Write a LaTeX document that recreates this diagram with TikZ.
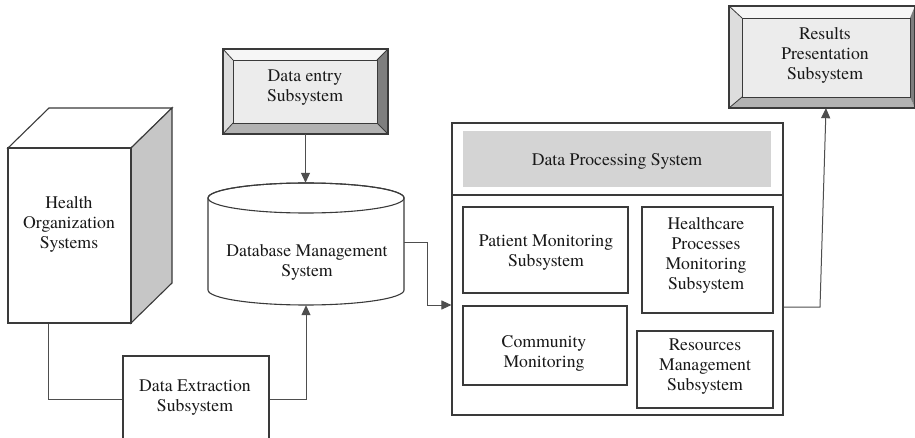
\documentclass[tikz,border=0pt]{standalone}
\usepackage{fontspec}
\setmainfont{texgyretermes-regular.otf}
\newfontfamily\diagserif{texgyretermes-regular.otf}
\usetikzlibrary{arrows.meta}
\definecolor{ln}{HTML}{3A3A3A}
\definecolor{hdr}{HTML}{D4D4D4}
\definecolor{side}{HTML}{C6C6C6}
\definecolor{bface}{HTML}{ECECEC}
\definecolor{btop}{HTML}{F6F6F6}
\definecolor{bleft}{HTML}{DDDDDD}
\definecolor{bbot}{HTML}{B2B2B2}
\definecolor{bright}{HTML}{7E7E7E}
\tikzset{
  txt/.style={font=\diagserif\fontsize{17.7}{20}\selectfont, align=center, text=black!90, inner sep=0pt},
  box/.style={draw=ln, line width=1.1pt, rectangle, inner sep=0pt, fill=white},
  ghost/.style={rectangle, inner sep=0pt},
  conn/.style={draw=ln!90, line width=1pt},
  arr/.style={conn, -{Triangle[length=10pt,width=9pt]}},
  edge/.style={draw=ln, line width=1.1pt, line join=miter},
}
\begin{document}
\begin{tikzpicture}[x=1pt,y=-1pt]
\useasboundingbox (0,0) rectangle (915,438);
\fill[white] (0,0) rectangle (915,438);

% ---- Health Organization Systems (cube)
\filldraw[edge, fill=white] (8,148) -- (49,108) -- (172,108) -- (131,148) -- cycle;
\filldraw[edge, fill=side] (131,148) -- (172,108) -- (172,283) -- (131,323) -- cycle;
\node[box, minimum width=123pt, minimum height=175pt] (hos) at (69.5,235.5) {};
\node[txt] (hostext) at (69,224) {Health\\Organization\\Systems};

% ---- Data Extraction Subsystem
\node[box, minimum width=146pt, minimum height=86pt] (dex) at (196,399) {};
\node[txt] (dextext) at (195,398) {Data Extraction\\Subsystem};

% ---- Data entry Subsystem (bevelled)
\fill[btop] (223,49) -- (388,49) -- (377,60) -- (233,60) -- cycle;
\fill[bleft] (223,49) -- (233,60) -- (233,123) -- (223,134) -- cycle;
\fill[bbot] (223,134) -- (233,123) -- (377,123) -- (388,134) -- cycle;
\fill[bright] (388,49) -- (377,60) -- (377,123) -- (388,134) -- cycle;
\fill[bface] (233,60) rectangle (377,123);
\draw[edge] (223,49) rectangle (388,134);
\draw[edge, line width=0.8pt] (233,60) rectangle (377,123);
\draw[edge, line width=0.8pt] (223,49) -- (233,60) (388,49) -- (377,60) (223,134) -- (233,123) (388,134) -- (377,123);
\node[ghost, minimum width=165pt, minimum height=85pt] (dentry) at (305.5,91.5) {};
\node[txt] (dentrytext) at (305,88) {Data entry\\Subsystem};

% ---- Results Presentation Subsystem (bevelled)
\fill[btop] (729,6) -- (915,6) -- (910,18) -- (742,18) -- cycle;
\fill[bleft] (729,6) -- (742,18) -- (742,97) -- (729,108) -- cycle;
\fill[bbot] (729,108) -- (742,97) -- (910,97) -- (915,108) -- cycle;
\fill[bright] (915,6) -- (910,18) -- (910,97) -- (915,108) -- cycle;
\fill[bface] (742,18) rectangle (910,97);
\draw[edge] (729,6) rectangle (914.5,108);
\draw[edge, line width=0.8pt] (742,18) rectangle (910,97);
\draw[edge, line width=0.8pt] (729,6) -- (742,18) (729,108) -- (742,97);
\node[ghost, minimum width=186pt, minimum height=102pt] (res) at (822,57) {};
\node[txt] (restext) at (825,55) {Results\\Presentation\\Subsystem};

% ---- Database Management System (cylinder)
\filldraw[edge, fill=white] (208,198) -- (208,290) arc[start angle=180, end angle=0, x radius=98, y radius=15] -- (404,198) arc[start angle=0, end angle=-180, x radius=98, y radius=15] -- cycle;
\draw[edge] (306,198) ellipse[x radius=98, y radius=15];
\node[ghost, minimum width=196pt, minimum height=122pt] (dbms) at (306,244) {};
\node[txt] (dbmstext) at (307,262) {Database Management\\System};

% ---- Data Processing System
\node[box, minimum width=331pt, minimum height=292pt] (dps) at (617.5,269) {};
\coordinate (div) at (617.5,195);
\draw[edge] (dps.west |- div) -- (dps.east |- div);
\node[ghost, fill=hdr, minimum width=308pt, minimum height=56pt] (hdr) at (617,159) {};
\node[txt] (hdrtext) at (617,161) {Data Processing System};

\node[box, minimum width=165pt, minimum height=86pt] (pm) at (545.5,250) {};
\node[txt] (pmtext) at (546,253) {Patient Monitoring\\Subsystem};
\node[box, minimum width=131pt, minimum height=106pt] (hc) at (707.5,260) {};
\node[txt] (hctext) at (706,255) {Healthcare\\Processes\\Monitoring\\Subsystem};
\node[box, minimum width=164pt, minimum height=79pt] (cm) at (545,345.5) {};
\node[txt] (cmtext) at (544,353) {Community\\Monitoring};
\node[box, minimum width=136pt, minimum height=77pt] (rm) at (705,369.5) {};
\node[txt] (rmtext) at (705,367) {Resources\\Management\\Subsystem};

% ---- connectors
\draw[conn] (hos.south west) ++(41,0) |- (dex.west);
\draw[arr] (dex.east) -| (dbms.south);
\draw[arr] (dentry.south) -- (dentry.south |- dbms.north);
\coordinate (j1) at (427,243);
\draw[arr] (dbms.east |- j1) -- (j1) |- (dps.west |- 0,305);
\coordinate (r1) at (820,307);
\draw[arr] (dps.east |- r1) -- (r1) -- ([xshift=4pt]res.south);
\end{tikzpicture}
\end{document}
